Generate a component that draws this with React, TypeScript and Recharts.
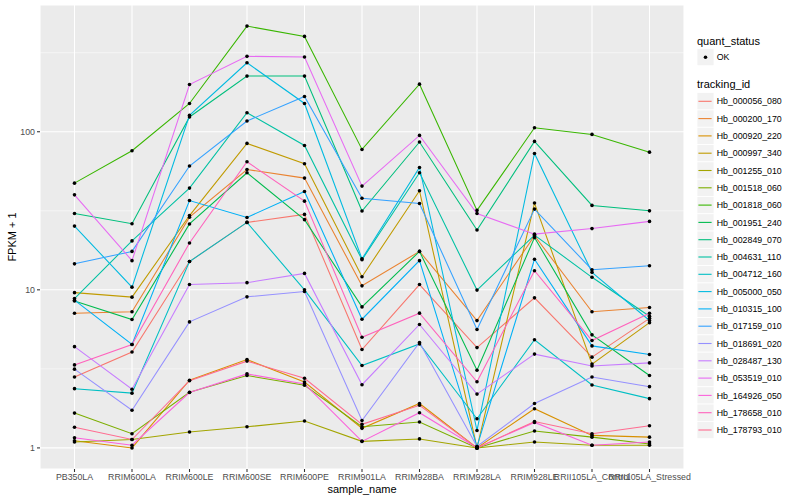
import React from 'react';
import { LineChart, Line, XAxis, YAxis, CartesianGrid, Legend } from 'recharts';

const categories = [
  'PB350LA', 'RRIM600LA', 'RRIM600LE', 'RRIM600SE', 'RRIM600PE', 'RRIM901LA',
  'RRIM928BA', 'RRIM928LA', 'RRIM928LE', 'RRII105LA_Control', 'RRII105LA_Stressed',
];

const trackingIds = [
  'Hb_000056_080', 'Hb_000200_170', 'Hb_000920_220', 'Hb_000997_340', 'Hb_001255_010',
  'Hb_001518_060', 'Hb_001818_060', 'Hb_001951_240', 'Hb_002849_070', 'Hb_004631_110',
  'Hb_004712_160', 'Hb_005000_050', 'Hb_010315_100', 'Hb_017159_010', 'Hb_018691_020',
  'Hb_028487_130', 'Hb_053519_010', 'Hb_164926_050', 'Hb_178658_010', 'Hb_178793_010',
];

const seriesColors = [
  '#F8766D', '#EA8331', '#D89000', '#C09B00', '#A3A500',
  '#7CAE00', '#39B600', '#00BB4E', '#00BF7D', '#00C1A3',
  '#00BFC4', '#00BAE0', '#00B0F6', '#35A2FF', '#9590FF',
  '#C77CFF', '#E76BF3', '#FA62DB', '#FF62BC', '#FF6C91',
];

// FPKM + 1 per sample, in the order of `categories`
const Hb_000056_080 = [2.81, 4.04, 15.1, 26.7, 30.0, 4.19, 10.8, 4.31, 8.9, 3.75, 6.6];
const Hb_000200_170 = [7.11, 7.26, 28.8, 57.7, 50.9, 10.6, 17.5, 6.39, 22.0, 7.26, 7.73];
const Hb_000920_220 = [1.11, 1.0, 2.68, 3.62, 2.61, 1.33, 1.91, 1.0, 1.77, 1.2, 1.17];
const Hb_000997_340 = [9.6, 8.99, 29.5, 84.4, 62.7, 12.1, 42.3, 1.0, 35.4, 3.39, 6.2];
const Hb_001255_010 = [1.09, 1.13, 1.26, 1.36, 1.48, 1.1, 1.14, 1.0, 1.09, 1.04, 1.04];
const Hb_001518_060 = [1.66, 1.23, 2.25, 2.87, 2.49, 1.36, 1.46, 1.0, 1.28, 1.17, 1.06];
const Hb_001818_060 = [47.3, 75.8, 151, 466, 401, 77.3, 200, 31.8, 106, 96.2, 74.3];
const Hb_001951_240 = [8.5, 6.49, 26.1, 55.0, 27.8, 7.8, 17.5, 3.1, 21.4, 5.19, 2.87];
const Hb_002849_070 = [30.4, 26.2, 124, 225, 225, 31.5, 86.1, 23.9, 86.9, 34.2, 31.6];
const Hb_004631_110 = [8.8, 20.4, 44.0, 132, 81.9, 15.5, 55.0, 9.96, 22.2, 12.0, 6.8];
const Hb_004712_160 = [2.37, 2.22, 15.1, 26.7, 10.0, 3.32, 4.55, 1.53, 4.83, 2.5, 2.05];
const Hb_005000_050 = [25.3, 10.4, 127, 273, 151, 15.7, 59.4, 1.29, 72.9, 12.9, 6.4];
const Hb_010315_100 = [8.6, 4.51, 36.7, 28.7, 41.9, 6.52, 15.3, 1.02, 15.6, 4.42, 3.9];
const Hb_017159_010 = [14.6, 17.5, 60.7, 117, 167, 38.0, 35.2, 5.61, 32.4, 13.4, 14.2];
const Hb_018691_020 = [3.15, 1.73, 6.27, 9.03, 9.76, 1.49, 4.64, 1.02, 1.91, 2.81, 2.44];
const Hb_028487_130 = [4.37, 2.35, 10.8, 11.1, 12.7, 2.51, 6.04, 2.19, 3.92, 3.3, 3.45];
const Hb_053519_010 = [39.9, 15.3, 199, 300, 297, 45.3, 94.8, 30.4, 22.5, 24.4, 27.1];
const Hb_164926_050 = [1.16, 1.04, 2.24, 2.94, 2.54, 1.1, 1.67, 1.0, 1.45, 1.04, 1.09];
const Hb_178658_010 = [3.35, 4.51, 19.8, 64.6, 36.4, 5.01, 7.12, 2.62, 13.2, 4.78, 7.1];
const Hb_178793_010 = [1.35, 1.13, 2.66, 3.54, 2.76, 1.41, 1.86, 1.0, 1.47, 1.23, 1.38];

const seriesValues = [
  Hb_000056_080, Hb_000200_170, Hb_000920_220, Hb_000997_340, Hb_001255_010,
  Hb_001518_060, Hb_001818_060, Hb_001951_240, Hb_002849_070, Hb_004631_110,
  Hb_004712_160, Hb_005000_050, Hb_010315_100, Hb_017159_010, Hb_018691_020,
  Hb_028487_130, Hb_053519_010, Hb_164926_050, Hb_178658_010, Hb_178793_010,
];

const yTicks = [1, 10, 100];
const yMinorTicks = [3.1623, 31.623, 316.23];
const statusLabels = ['OK'];

const data = categories.map((c, i) => {
  const row: Record<string, any> = { sample_name: c };
  trackingIds.forEach((id, k) => {
    row[id] = seriesValues[k][i];
  });
  return row;
});

// ggplot-style 5% expansion of the log10 range
const allVals = seriesValues.flat();
const lmin = Math.log10(Math.min(...allVals));
const lmax = Math.log10(Math.max(...allVals));
const ext = (lmax - lmin) * 0.05;
const yDomain: [number, number] = [Math.pow(10, lmin - ext), Math.pow(10, lmax + ext)];

const FONT = '"Liberation Sans", Arial, Helvetica, sans-serif';

const LegendContent = () => {
  const step = 17.3;
  return (
    <svg width={110} height={500} style={{ display: 'block', fontFamily: FONT }}>
      <text x={7} y={44.6} fontSize={11} fill="#000">quant_status</text>
      {statusLabels.map((s) => (
        <g key={s}>
          <rect x={7} y={48.7} width={17} height={17} fill="#F2F2F2" stroke="#FFFFFF" strokeWidth={0.8} />
          <circle cx={15.5} cy={57.2} r={1.8} fill="#000" />
          <text x={26.7} y={60.4} fontSize={8.8} fill="#000">{s}</text>
        </g>
      ))}
      <text x={7} y={88.2} fontSize={11} fill="#000">tracking_id</text>
      {trackingIds.map((id, k) => {
        const cy = 101.3 + k * step;
        return (
          <g key={id}>
            <rect x={7} y={cy - step / 2} width={17} height={step} fill="#F2F2F2" stroke="#FFFFFF" strokeWidth={0.8} />
            <line x1={8.4} x2={21.6} y1={cy} y2={cy} stroke={seriesColors[k]} strokeWidth={1.1} />
            <text x={26.7} y={cy + 3.1} fontSize={8.8} fill="#000">{id}</text>
          </g>
        );
      })}
    </svg>
  );
};

const XTitle = (props: any) => {
  const vb = props.viewBox || {};
  return (
    <text x={vb.x + vb.width / 2} y={vb.y + 24} textAnchor="middle" fontSize={11} fill="#000">
      sample_name
    </text>
  );
};

const YTitle = (props: any) => {
  const vb = props.viewBox || {};
  const cy = vb.y + vb.height / 2;
  return (
    <text transform={`translate(16, ${cy}) rotate(-90)`} textAnchor="middle" fontSize={11} fill="#000">
      FPKM + 1
    </text>
  );
};

export default function App() {
  return (
    <div style={{ position: 'absolute', left: 0, top: 0, width: 800, height: 500, background: '#fff', fontFamily: FONT }}>
      <LineChart width={800} height={500} data={data} margin={{ top: 5, right: 116, bottom: 0, left: 0 }}>
        <CartesianGrid fill="#EBEBEB" stroke="#FFFFFF" strokeWidth={0.53} vertical={false} horizontalValues={yMinorTicks} />
        <CartesianGrid fill="none" stroke="#FFFFFF" strokeWidth={1.07} />
        <XAxis
          dataKey="sample_name"
          interval={0}
          padding={{ left: 34.5, right: 34.5 }}
          height={31}
          tickSize={3}
          tickMargin={1.5}
          axisLine={false}
          tickLine={{ stroke: '#333333', strokeWidth: 1.07 }}
          tick={{ fill: '#4D4D4D', fontSize: 8.8 }}
          label={<XTitle />}
        />
        <YAxis
          type="number"
          scale="log"
          domain={yDomain}
          allowDataOverflow
          ticks={yTicks}
          width={40}
          tickSize={3}
          tickMargin={2}
          axisLine={false}
          tickLine={{ stroke: '#333333', strokeWidth: 1.07 }}
          tick={{ fill: '#4D4D4D', fontSize: 8.8 }}
          label={<YTitle />}
        />
        {trackingIds.map((id, k) => (
          <Line
            key={'l' + id}
            type="linear"
            dataKey={id}
            stroke={seriesColors[k]}
            strokeWidth={1.07}
            dot={false}
            activeDot={false}
            isAnimationActive={false}
          />
        ))}
        {trackingIds.map((id) => (
          <Line
            key={'p' + id}
            type="linear"
            dataKey={id}
            stroke="none"
            dot={{ r: 1.8, fill: '#000', stroke: 'none' }}
            activeDot={false}
            legendType="none"
            isAnimationActive={false}
          />
        ))}
        <Legend
          layout="vertical"
          align="center"
          verticalAlign="middle"
          wrapperStyle={{ left: 690, top: 0, width: 110, height: 500 }}
          content={() => <LegendContent />}
        />
      </LineChart>
    </div>
  );
}
